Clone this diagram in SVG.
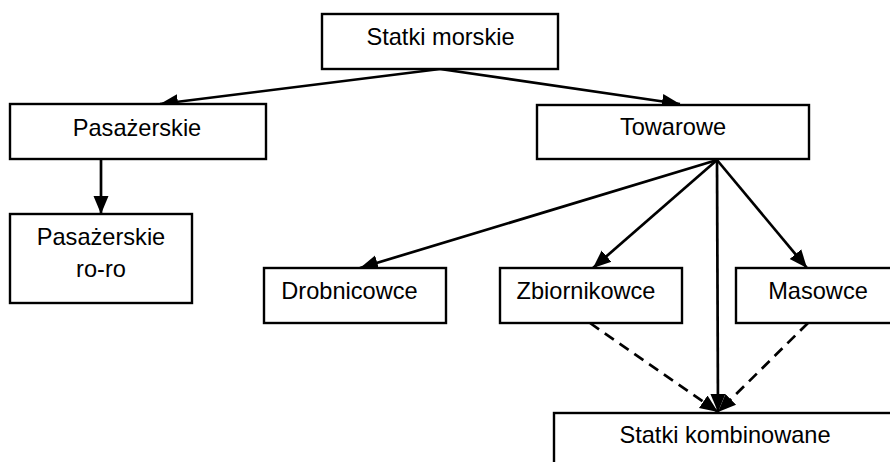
<svg xmlns="http://www.w3.org/2000/svg" width="890" height="462" viewBox="0 0 890 462">
<style>
.box{fill:#fff;stroke:#000;stroke-width:2.4}
.t{font-family:"Liberation Sans",Arial,sans-serif;font-size:23.6px;fill:#000;text-anchor:middle}
.c{fill:none;stroke:#000;stroke-width:2.7}
.d{stroke-dasharray:11,7}
</style>
<defs>
<marker id="ah" markerUnits="userSpaceOnUse" markerWidth="20" markerHeight="18" viewBox="0 0 20 18" refX="18" refY="9" orient="auto">
<path d="M0,1.5 L18,9 L0,16.5 Z" fill="#000"/>
</marker>
</defs>
<rect width="890" height="462" fill="#fff"/>
<g id="connectors">
<path class="c" d="M440,69 L160,104" marker-end="url(#ah)"/>
<path class="c" d="M440,69 L680,104" marker-end="url(#ah)"/>
<path class="c" d="M101,159 L101,214" marker-end="url(#ah)"/>
<path class="c" d="M717,160 L360,268" marker-end="url(#ah)"/>
<path class="c" d="M717,160 L593,268" marker-end="url(#ah)"/>
<path class="c" d="M717,160 L807,268" marker-end="url(#ah)"/>
<path class="c" d="M717,160 L718,412" marker-end="url(#ah)"/>
<path class="c d" d="M590,323 L718,412" marker-end="url(#ah)"/>
<path class="c d" d="M808,323 L718,412" marker-end="url(#ah)"/>
</g>
<g id="statki-morskie"><rect class="box" x="322" y="14" width="236" height="55"/><text class="t" x="440.5" y="45">Statki morskie</text></g>
<g id="pasazerskie"><rect class="box" x="10" y="104" width="256" height="55"/><text class="t" x="137" y="136">Pasażerskie</text></g>
<g id="pasazerskie-roro"><rect class="box" x="10" y="214" width="182" height="89"/><text class="t" x="101" y="245">Pasażerskie</text><text class="t" x="101" y="277">ro-ro</text></g>
<g id="towarowe"><rect class="box" x="537" y="105" width="272" height="54"/><text class="t" x="673" y="135">Towarowe</text></g>
<g id="drobnicowce"><rect class="box" x="264" y="268" width="182" height="55"/><text class="t" x="349.5" y="299">Drobnicowce</text></g>
<g id="zbiornikowce"><rect class="box" x="500" y="268" width="182" height="55"/><text class="t" x="586" y="299">Zbiornikowce</text></g>
<g id="masowce"><rect class="box" x="736" y="268" width="170" height="55"/><text class="t" x="818" y="299">Masowce</text></g>
<g id="statki-kombinowane"><rect class="box" x="554" y="413" width="350" height="70"/><text class="t" x="725" y="443">Statki kombinowane</text></g>
</svg>
